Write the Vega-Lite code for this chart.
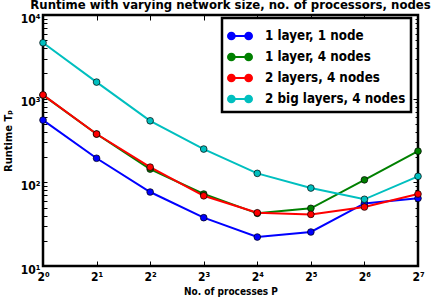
{
  "$schema": "https://vega.github.io/schema/vega-lite/v6.json",
  "width": 375,
  "height": 251,
  "autosize": {"type": "none"},
  "padding": {"left": 43, "top": 15, "right": 16, "bottom": 32},
  "background": "white",
  "config": {
    "font": "DejaVu Sans Condensed",
    "view": {"stroke": "black", "strokeWidth": 2.5},
    "axis": {"labelFont": "DejaVu Sans Condensed", "labelFontWeight": "bold", "labelFontSize": 12, "labelColor": "black", "titleFont": "DejaVu Sans Condensed", "titleFontWeight": "bold", "titleFontSize": 10, "titleColor": "black", "domain": false, "grid": false, "tickColor": "black", "tickWidth": 1}
  },
  "title": {"text": "Runtime with varying network size, no. of processors, nodes", "font": "DejaVu Sans Condensed", "fontSize": 13, "fontWeight": "bold", "color": "black", "anchor": "middle", "offset": 0.5},
  "data": {"values": [
    {"P": 1, "series": "1 layer, 1 node", "t": 555},
    {"P": 2, "series": "1 layer, 1 node", "t": 194},
    {"P": 4, "series": "1 layer, 1 node", "t": 76.6},
    {"P": 8, "series": "1 layer, 1 node", "t": 37.8},
    {"P": 16, "series": "1 layer, 1 node", "t": 22.2},
    {"P": 32, "series": "1 layer, 1 node", "t": 25.5},
    {"P": 64, "series": "1 layer, 1 node", "t": 56},
    {"P": 128, "series": "1 layer, 1 node", "t": 64.4},
    {"P": 1, "series": "1 layer, 4 nodes", "t": 1104},
    {"P": 2, "series": "1 layer, 4 nodes", "t": 378},
    {"P": 4, "series": "1 layer, 4 nodes", "t": 144},
    {"P": 8, "series": "1 layer, 4 nodes", "t": 72.5},
    {"P": 16, "series": "1 layer, 4 nodes", "t": 42.6},
    {"P": 32, "series": "1 layer, 4 nodes", "t": 48.9},
    {"P": 64, "series": "1 layer, 4 nodes", "t": 107},
    {"P": 128, "series": "1 layer, 4 nodes", "t": 236},
    {"P": 1, "series": "2 layers, 4 nodes", "t": 1110},
    {"P": 2, "series": "2 layers, 4 nodes", "t": 378},
    {"P": 4, "series": "2 layers, 4 nodes", "t": 152},
    {"P": 8, "series": "2 layers, 4 nodes", "t": 69},
    {"P": 16, "series": "2 layers, 4 nodes", "t": 43.3},
    {"P": 32, "series": "2 layers, 4 nodes", "t": 41.4},
    {"P": 64, "series": "2 layers, 4 nodes", "t": 50.7},
    {"P": 128, "series": "2 layers, 4 nodes", "t": 72.5},
    {"P": 1, "series": "2 big layers, 4 nodes", "t": 4656},
    {"P": 2, "series": "2 big layers, 4 nodes", "t": 1578},
    {"P": 4, "series": "2 big layers, 4 nodes", "t": 544},
    {"P": 8, "series": "2 big layers, 4 nodes", "t": 250},
    {"P": 16, "series": "2 big layers, 4 nodes", "t": 128},
    {"P": 32, "series": "2 big layers, 4 nodes", "t": 85.5},
    {"P": 64, "series": "2 big layers, 4 nodes", "t": 62.7},
    {"P": 128, "series": "2 big layers, 4 nodes", "t": 118}
  ]},
  "resolve": {"axis": {"x": "independent", "y": "independent"}},
  "layer": [
    {
      "mark": {"type": "line", "strokeWidth": 2},
      "encoding": {
        "x": {"field": "P", "type": "quantitative", "scale": {"type": "log", "base": 2, "domain": [1, 128], "nice": false},
          "axis": {"orient": "bottom", "title": "No. of processes P", "values": [1, 2, 4, 8, 16, 32, 64, 128], "labelExpr": "'2' + ['⁰','¹','²','³','⁴','⁵','⁶','⁷'][round(log(datum.value)/LN2)]", "tickSize": -5, "labelPadding": 10, "titlePadding": 4, "labelFlush": false}},
        "y": {"field": "t", "type": "quantitative", "scale": {"type": "log", "domain": [10, 10000], "nice": false},
          "axis": {"orient": "left", "title": "Runtime Tₚ", "titleFontSize": 11, "values": [10, 20, 30, 40, 50, 60, 70, 80, 90, 100, 200, 300, 400, 500, 600, 700, 800, 900, 1000, 2000, 3000, 4000, 5000, 6000, 7000, 8000, 9000, 10000],
            "labelExpr": "abs(log(datum.value)/LN10 - round(log(datum.value)/LN10)) < 1e-6 ? '10' + ['⁰','¹','²','³','⁴'][round(log(datum.value)/LN10)] : ''",
            "tickSize": -4,
            "labelPadding": 7, "labelOffset": 3, "titlePadding": 7, "labelFlush": false}},
        "color": {"field": "series", "type": "nominal",
          "scale": {"domain": ["1 layer, 1 node", "1 layer, 4 nodes", "2 layers, 4 nodes", "2 big layers, 4 nodes"], "range": ["#0000ff", "#008000", "#ff0000", "#00bfbf"]},
          "legend": {"orient": "none", "legendX": 179, "legendY": 3, "title": null, "direction": "vertical",
            "strokeColor": "black", "fillColor": "white", "padding": 5,
            "labelFont": "DejaVu Sans Condensed", "labelFontWeight": "bold", "labelFontSize": 13.3, "labelColor": "black", "labelOffset": 12,
            "symbolType": "M-1,0L1,0M-1,0a0.28,0.28 0 1,0 0.56,0a0.28,0.28 0 1,0 -0.56,0M0.44,0a0.28,0.28 0 1,0 0.56,0a0.28,0.28 0 1,0 -0.56,0",
            "symbolSize": 576, "symbolStrokeWidth": 2, "rowPadding": -7,
            "encode": {"symbols": {"update": {"fill": {"scale": "color", "field": "value"}}}, "legend": {"update": {"strokeWidth": {"value": 2.5}}}}}}
      }
    },
    {
      "mark": {"type": "point", "filled": true, "size": 45, "stroke": "black", "strokeWidth": 0.7, "opacity": 1},
      "encoding": {
        "x": {"field": "P", "type": "quantitative", "axis": {"orient": "top", "title": null, "labels": false, "values": [1, 2, 4, 8, 16, 32, 64, 128], "tickSize": -5}},
        "y": {"field": "t", "type": "quantitative", "axis": {"orient": "right", "title": null, "labels": false, "values": [10, 20, 30, 40, 50, 60, 70, 80, 90, 100, 200, 300, 400, 500, 600, 700, 800, 900, 1000, 2000, 3000, 4000, 5000, 6000, 7000, 8000, 9000, 10000],
          "tickSize": {"condition": {"test": "abs(log(datum.value)/LN10 - round(log(datum.value)/LN10)) < 1e-6", "value": -5}, "value": -3}}},
        "fill": {"field": "series", "type": "nominal", "scale": {"domain": ["1 layer, 1 node", "1 layer, 4 nodes", "2 layers, 4 nodes", "2 big layers, 4 nodes"], "range": ["#0000ff", "#008000", "#ff0000", "#00bfbf"]}, "legend": null}
      }
    }
  ]
}
